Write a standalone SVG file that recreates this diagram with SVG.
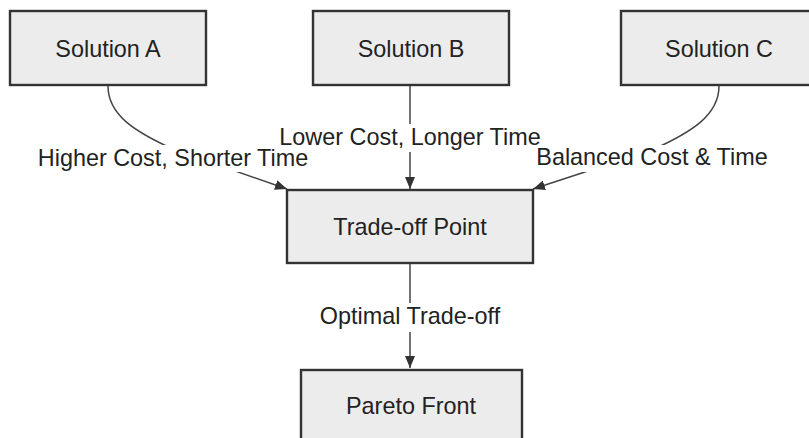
<svg xmlns="http://www.w3.org/2000/svg" width="809" height="438" viewBox="0 0 809 438">
<style>
.node rect{fill:#ececec;stroke:#333;stroke-width:2.4}
.node text,.lbl text{font-family:"Liberation Sans",Arial,sans-serif;font-size:23.4px;fill:#222;text-anchor:middle}
.edge{fill:none;stroke:#444;stroke-width:1.5}
.lbl rect{fill:#fff}
</style>
<defs>
<marker id="ah" viewBox="0 0 12 10" refX="12" refY="5" markerWidth="12" markerHeight="10" markerUnits="userSpaceOnUse" orient="auto">
<path d="M0,0 L12,5 L0,10 z" fill="#333"/>
</marker>
</defs>
<rect width="809" height="438" fill="#fff"/>
<g id="connectors">
<path class="edge" d="M108,86 C108,115 135,132 175,150 L287,189" marker-end="url(#ah)"/>
<path class="edge" d="M410,86 L410,189" marker-end="url(#ah)"/>
<path class="edge" d="M719,86 C719,115 692,132 652,150 L533,189" marker-end="url(#ah)"/>
<path class="edge" d="M410,264 L410,368" marker-end="url(#ah)"/>
</g>
<g id="edge-labels" class="lbl">
<rect x="38" y="145" width="270" height="27"/>
<rect x="280" y="124" width="260" height="28"/>
<rect x="536" y="145" width="232" height="27"/>
<rect x="320" y="303" width="180" height="29"/>
<text x="173" y="166">Higher Cost, Shorter Time</text>
<text x="410" y="145">Lower Cost, Longer Time</text>
<text x="652" y="165">Balanced Cost &amp; Time</text>
<text x="410" y="324">Optimal Trade-off</text>
</g>
<g id="solution-a" class="node"><rect x="10" y="11" width="196" height="74"/><text x="108" y="56.5">Solution A</text></g>
<g id="solution-b" class="node"><rect x="313" y="11" width="196" height="74"/><text x="411" y="56.5">Solution B</text></g>
<g id="solution-c" class="node"><rect x="621" y="11" width="196" height="74"/><text x="719" y="56.5">Solution C</text></g>
<g id="trade-off-point" class="node"><rect x="287" y="190" width="246" height="73"/><text x="410" y="235">Trade-off Point</text></g>
<g id="pareto-front" class="node"><rect x="301" y="370" width="221" height="80"/><text x="411" y="414">Pareto Front</text></g>
</svg>
